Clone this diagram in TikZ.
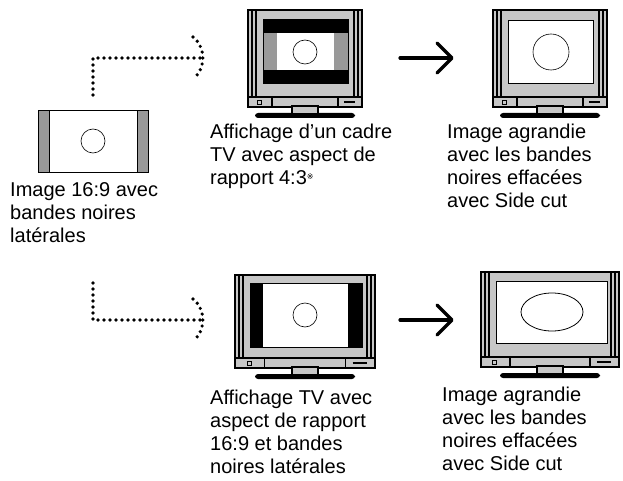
\documentclass[tikz,border=0pt]{standalone}
\usepackage{fontspec}
\setmainfont{Liberation Sans}
\newfontfamily\symfont{DejaVu Sans}
\usetikzlibrary{shapes.geometric}
\begin{document}
\begin{tikzpicture}[x=1pt,y=-1pt,
  lbl/.style={anchor=north west,align=left,inner sep=0pt,font=\fontsize{20}{23}\selectfont},
  dots/.style={line width=3.6pt,line cap=round,dash pattern=on 0pt off 6pt},
  bigarrow/.style={line width=3.2pt,line cap=round,line join=round},
  tvline/.style={line width=1.2pt}]
\useasboundingbox (0,0) rectangle (623,481);
% TV macro: #1 x, #2 y, #3 w, #4 h (body)
\newcommand\tvset[4]{%
 \begin{scope}[shift={(#1,#2)}]
  \fill[black,rounded corners=3pt] (#3/2-50,#4+6) rectangle (#3/2+50,#4+11);
  \draw[tvline,fill=black!22] (#3/2-13,#4-4) rectangle (#3/2+13,#4+7);
  \draw[line width=2pt,fill=black!22] (0,0) rectangle (#3,#4);
  \draw[tvline] (4,0) -- (4,#4-10) (8,0)--(8,#4-10) (#3-4,0)--(#3-4,#4-10) (#3-8,0)--(#3-8,#4-10);
  \draw[tvline] (0,#4-10) -- (#3,#4-10);
  \draw[tvline] (#3*0.21,#4-10)--(#3*0.21,#4) (#3*0.79,#4-10)--(#3*0.79,#4);
  \draw[line width=0.8pt] (#3*0.1-2,#4-7) rectangle (#3*0.1+2,#4-3);
  \draw[line width=1.5pt] (#3*0.84,#4-5)--(#3*0.94,#4-5);
  \draw[tvline,fill=black!22] (#3/2-13,#4-1) rectangle (#3/2+13,#4+7);
 \end{scope}}
% source image
\fill[black!40] (38,110) rectangle (148,172);
\draw[line width=0.8pt,fill=white] (49,110) rectangle (137,172);
\draw[line width=0.8pt] (38,110) rectangle (148,172);
\node[circle,draw,line width=0.6pt,minimum size=24pt,inner sep=0pt] (c0) at (93,141) {};
\node[lbl] (t0) at (10,182) {Image 16:9 avec\\bandes noires\\latérales};
% dotted arrows
\coordinate (d1) at (93,95); \coordinate (d1b) at (93,58); \coordinate (d1e) at (200,58);
\draw[dots] (d1) -- (d1b) -- (d1e);
\draw[dots] (193,37) .. controls (206,47) and (206,69) .. (193,79);
\coordinate (d2) at (93,283); \coordinate (d2b) at (93,320); \coordinate (d2e) at (200,320);
\draw[dots] (d2) -- (d2b) -- (d2e);
\draw[dots] (193,299) .. controls (206,309) and (206,331) .. (193,341);
% TV1
\tvset{248}{10}{114}{97}
\fill[black] (263,19) rectangle (348,83);
\fill[black!40] (263,33) rectangle (348,70);
\fill[white] (277,33) rectangle (334,70);
\draw[line width=0.8pt] (263,19) rectangle (348,83);
\node[circle,draw,line width=0.6pt,minimum size=24pt,inner sep=0pt] (c1) at (305,52) {};
\node[lbl] (t1) at (210,124) {Affichage d'un cadre\\TV avec aspect de\\rapport 4:3\raisebox{5pt}{\symfont\fontsize{8}{8}\selectfont ※}};
% arrow 1
\coordinate (a1s) at (400,58); \coordinate (a1e) at (451,58);
\draw[bigarrow] (a1s) -- (a1e);
\draw[bigarrow] (437,43) -- (452,58) -- (437,73);
% TV2
\tvset{493}{10}{114}{97}
\draw[line width=0.8pt,fill=white] (508,20) rectangle (593,83);
\node[circle,draw,line width=0.6pt,minimum size=36pt,inner sep=0pt] (c2) at (551,52) {};
\node[lbl] (t2) at (447,124) {Image agrandie\\avec les bandes\\noires effacées\\avec Side cut};
% TV3
\tvset{235}{275}{140}{93}
\fill[black] (250,283) rectangle (362,347);
\fill[white] (263,283) rectangle (348,347);
\draw[line width=0.8pt] (250,283) rectangle (362,347);
\node[circle,draw,line width=0.6pt,minimum size=24pt,inner sep=0pt] (c3) at (305,315) {};
\node[lbl] (t3) at (210,390) {Affichage TV avec\\aspect de rapport\\16:9 et bandes\\noires latérales};
% arrow 2
\coordinate (a2s) at (400,320); \coordinate (a2e) at (451,320);
\draw[bigarrow] (a2s) -- (a2e);
\draw[bigarrow] (437,305) -- (452,320) -- (437,335);
% TV4
\tvset{481}{272}{138}{95}
\draw[line width=0.8pt,fill=white] (496,281) rectangle (607,343);
\node[ellipse,draw,line width=0.8pt,minimum width=62pt,minimum height=38pt,inner sep=0pt] (c4) at (552,312) {};
\node[lbl] (t4) at (442,387) {Image agrandie\\avec les bandes\\noires effacées\\avec Side cut};
\end{tikzpicture}
\end{document}
